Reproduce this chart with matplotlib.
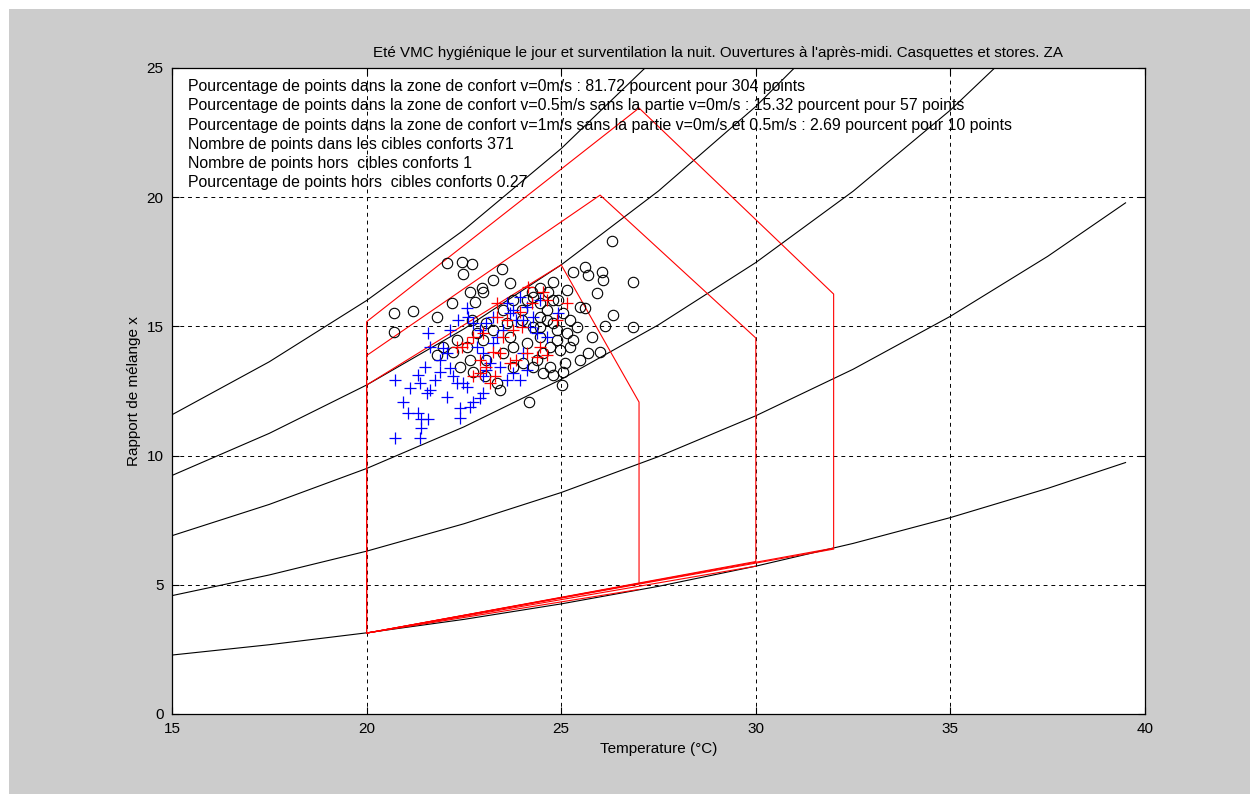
import numpy as np
import matplotlib
matplotlib.use("Agg")
import matplotlib.pyplot as plt
from matplotlib.patches import Rectangle

plt.rcParams['font.family'] = ['Liberation Sans', 'DejaVu Sans']

# humidity curves (20..100 %)
t_hr = [15, 17.5, 20, 22.5, 25, 27.5, 30, 32.5, 35, 37.5, 39.5]
hr20 = [2.28, 2.68, 3.14, 3.66, 4.26, 4.94, 5.72, 6.60, 7.60, 8.73, 9.73]
hr40 = [4.58, 5.38, 6.30, 7.36, 8.57, 9.96, 11.54, 13.34, 15.39, 17.71, 19.78]
hr60 = [6.90, 8.11, 9.50, 11.11, 12.95, 15.06, 17.47, 20.23, 23.37, 26.95]
hr80 = [9.23, 10.86, 12.73, 14.90, 17.38, 20.24, 23.51, 27.27]
hr100 = [11.58, 13.63, 16.00, 18.73, 21.88, 25.50]

# comfort zones v=0, 0.5, 1 m/s
zone0_t = [20, 20, 25, 27, 27, 20]
zone0_x = [3.13, 12.73, 17.38, 12.07, 5.05, 3.13]
zone05_t = [20, 20, 26, 30, 30, 20]
zone05_x = [3.13, 13.87, 20.08, 14.55, 5.90, 3.13]
zone1_t = [20, 20, 27, 32, 32, 20]
zone1_x = [3.13, 15.18, 23.45, 16.25, 6.42, 3.13]
base_t = [27, 30, 32]
base_x = [4.82, 5.72, 6.38]

# measured points
circ_t = [26.30, 22.06, 22.44, 22.72, 22.48, 23.49, 23.26, 23.68, 20.71, 21.18,
          21.80, 22.19, 22.66, 22.96, 23.00, 22.78, 20.71, 21.80, 24.16, 25.01,
          25.05, 25.61, 25.70, 26.04, 26.08, 25.31, 26.85, 25.91, 24.80, 25.14,
          24.45, 25.48, 25.61, 26.34, 26.12, 25.40, 26.85, 25.78, 25.31, 25.23,
          25.70, 25.99, 25.48, 25.10, 24.71, 24.54, 24.80, 24.03, 24.37, 23.77,
          23.43, 23.34, 23.04, 22.74, 22.40, 22.66, 22.23, 22.57, 23.00, 22.83,
          23.26, 23.60, 23.98, 24.28, 24.45, 24.11, 23.77, 23.51, 23.68, 23.08,
          24.88, 24.63, 25.05, 25.23, 24.97, 24.71, 24.28, 24.45, 23.98, 23.77,
          23.51, 23.08, 22.70, 22.31, 21.97, 24.63, 24.80, 24.45, 24.24, 24.67,
          24.93, 24.11, 24.45, 24.80, 25.14, 24.88, 24.54, 24.28]
circ_x = [18.32, 17.47, 17.51, 17.42, 17.02, 17.21, 16.80, 16.69, 15.51, 15.61,
          15.38, 15.92, 16.34, 16.47, 16.34, 15.96, 14.80, 13.89, 12.09, 12.73,
          13.25, 17.31, 16.99, 17.12, 16.80, 17.12, 16.73, 16.31, 16.73, 16.41,
          16.47, 15.76, 15.70, 15.44, 15.02, 14.99, 14.96, 14.60, 14.47, 14.22,
          13.96, 14.02, 13.70, 13.57, 13.44, 13.18, 13.12, 13.57, 13.70, 13.44,
          12.54, 12.80, 13.06, 13.25, 13.44, 13.70, 14.02, 14.22, 14.47, 14.73,
          14.86, 15.12, 15.64, 14.99, 14.60, 14.35, 14.22, 13.96, 14.60, 13.70,
          14.86, 15.25, 15.51, 15.25, 14.09, 14.22, 16.15, 15.89, 15.25, 16.02,
          15.63, 15.12, 15.25, 14.47, 14.22, 15.64, 16.02, 15.38, 16.34, 16.34,
          16.02, 16.02, 14.99, 15.12, 14.73, 14.47, 13.96, 13.44]

blue_t = [20.73, 21.37, 20.73, 20.94, 21.07, 21.33, 21.41, 21.59, 21.41, 21.11,
          21.37, 21.54, 21.63, 21.33, 21.50, 21.89, 21.76, 22.06, 22.40, 22.40,
          22.66, 22.74, 22.91, 23.00, 22.57, 22.48, 22.31, 22.23, 22.14, 22.06,
          21.97, 21.89, 21.63, 21.59, 22.14, 22.36, 22.57, 22.61, 22.74, 22.91,
          23.08, 23.26, 23.34, 23.51, 23.60, 23.77, 23.94, 24.11, 24.28, 24.45,
          24.63, 24.37, 24.03, 24.11, 23.94, 23.77, 23.60, 23.43, 23.17, 23.08,
          23.00, 22.83, 23.26, 23.85, 23.68, 24.03, 24.20, 24.93, 23.00]
blue_x = [10.67, 10.67, 12.93, 12.09, 11.66, 11.64, 11.40, 11.40, 11.06, 12.60,
          12.80, 12.41, 12.54, 13.12, 13.44, 13.25, 12.93, 12.28, 11.83, 11.44,
          11.89, 12.09, 12.22, 12.41, 12.67, 12.80, 12.80, 13.06, 13.38, 13.96,
          14.15, 13.70, 14.22, 14.73, 14.86, 15.25, 15.70, 15.38, 15.12, 14.86,
          15.12, 15.38, 14.60, 14.86, 15.89, 15.63, 16.15, 15.76, 15.38, 16.02,
          14.60, 14.73, 13.96, 13.31, 12.93, 13.18, 12.93, 13.44, 13.57, 13.31,
          13.96, 14.22, 14.35, 15.25, 15.51, 15.25, 14.99, 15.51, 13.06]

red_t = [23.34, 24.15, 24.54, 24.63, 24.24, 23.94, 23.60, 23.77, 23.98, 23.51,
         23.34, 23.00, 22.74, 22.57, 22.44, 22.31, 22.91, 23.08, 22.91, 22.74,
         23.17, 23.30, 23.68, 23.85, 24.37, 24.63, 24.88, 25.14, 24.45, 24.11,
         23.43, 23.26]
red_x = [15.89, 16.54, 16.34, 16.02, 15.89, 15.57, 15.25, 14.86, 14.99, 14.60,
         15.38, 14.73, 14.60, 14.35, 14.22, 14.22, 13.70, 13.44, 13.18, 13.06,
         12.80, 13.06, 13.57, 13.70, 13.83, 13.89, 15.25, 15.89, 14.22, 13.96,
         13.96, 14.02]

notes = [
    "Pourcentage de points dans la zone de confort v=0m/s : 81.72 pourcent pour 304 points",
    "Pourcentage de points dans la zone de confort v=0.5m/s sans la partie v=0m/s : 15.32 pourcent pour 57 points",
    "Pourcentage de points dans la zone de confort v=1m/s sans la partie v=0m/s et 0.5m/s : 2.69 pourcent pour 10 points",
    "Nombre de points dans les cibles conforts 371",
    "Nombre de points hors  cibles conforts 1",
    "Pourcentage de points hors  cibles conforts 0.27",
]

fig = plt.figure(figsize=(12.5, 7.94), dpi=100, facecolor='white')
fig.patches.append(Rectangle((9 / 1250, 0), 1, 1 - 9 / 794, transform=fig.transFigure,
                             facecolor='#cccccc', edgecolor='none', zorder=-10))
ax = fig.add_axes([0.1376, 0.1008, 0.7784, 0.8136])
ax.set_facecolor('white')

for c in [hr20, hr40, hr60, hr80, hr100]:
    ax.plot(t_hr[:len(c)], c, color='black', lw=0.8)

for zt, zx in [(zone0_t, zone0_x), (zone05_t, zone05_x), (zone1_t, zone1_x)]:
    ax.plot(zt, zx, color='red', lw=0.8)
for bt, bx in zip(base_t, base_x):
    ax.plot([20, bt], [3.13, bx], color='red', lw=0.8)

ax.plot(circ_t, circ_x, 'o', mfc='none', mec='black', ms=7.5, mew=0.8)
ax.plot(blue_t, blue_x, '+', color='blue', ms=9, mew=0.9)
ax.plot(red_t, red_x, '+', color='red', ms=9, mew=0.9)

for i, s in enumerate(notes):
    ax.text(15.4, 24.27 - i * 0.74, s, fontsize=11.4, va='center', ha='left')

ax.set_xlim(15, 40)
ax.set_ylim(0, 25)
ax.set_xticks([15, 20, 25, 30, 35, 40])
ax.set_yticks([0, 5, 10, 15, 20, 25])
ax.grid(True, color='black', linestyle=(0, (4, 4)), lw=0.7)
ax.tick_params(direction='in', top=True, right=True, length=5, labelsize=11)
ax.tick_params(axis='x', pad=6)
ax.tick_params(axis='y', pad=6)
for sp in ax.spines.values():
    sp.set_linewidth(0.9)
ax.set_title("Eté VMC hygiénique le jour et surventilation la nuit. Ouvertures à l'après-midi. Casquettes et stores. ZA",
             fontsize=10.9, pad=8, x=0.561)
ax.set_xlabel("Temperature (°C)", fontsize=11, labelpad=4)
ax.set_ylabel("Rapport de mélange x", fontsize=11, labelpad=4)

fig.savefig("out.png", dpi=100, facecolor=fig.get_facecolor())
